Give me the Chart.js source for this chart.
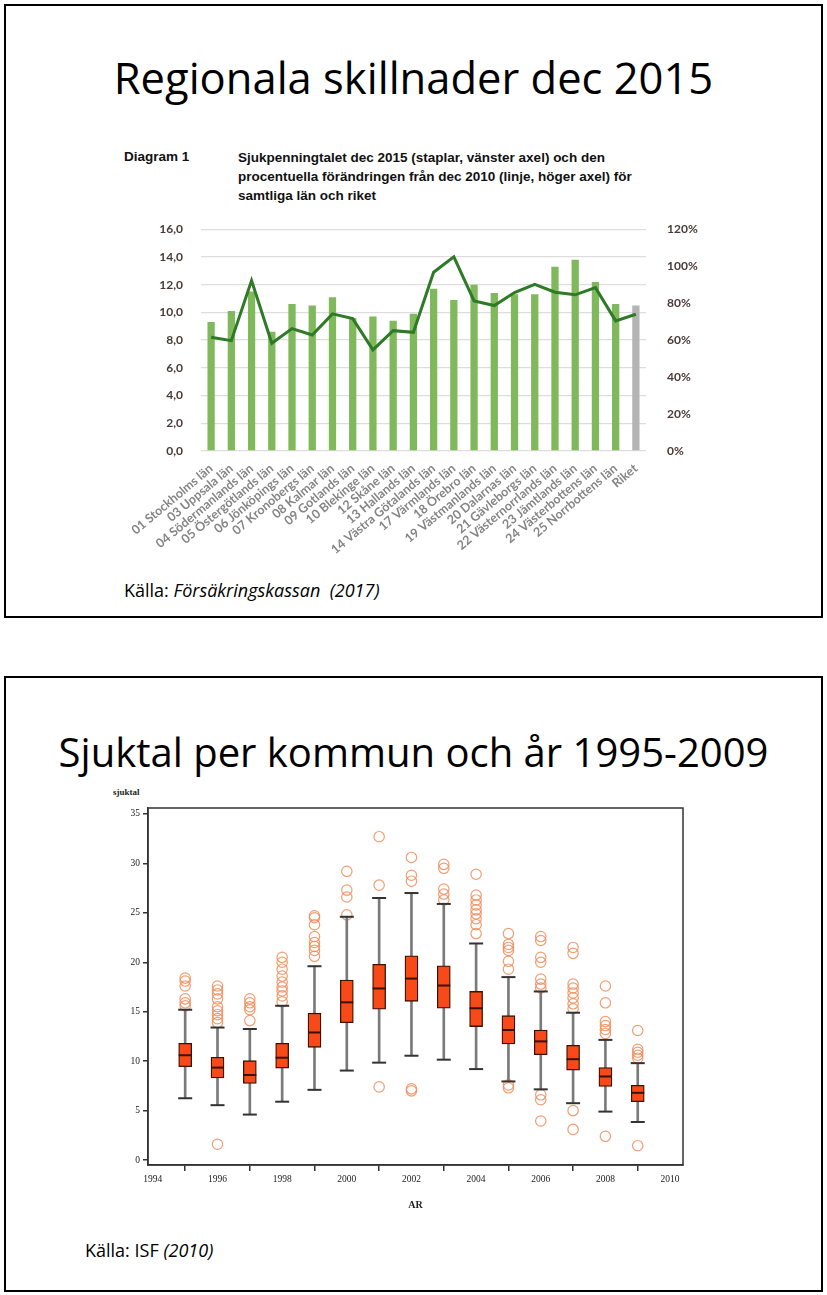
<!DOCTYPE html>
<html>
<head>
<meta charset="utf-8">
<script src="https://cdn.jsdelivr.net/npm/chart.js@4/dist/chart.umd.min.js"></script>
<style>
  body { margin: 0; width: 827px; height: 1295px; background: #fff; position: relative; overflow: hidden; }
  .slide { position: absolute; left: 4px; width: 815px; border: 2px solid #000; }
  .txt { position: absolute; white-space: nowrap; color: #000; }
  .title { font-family: 'Open Sans', sans-serif; left: 0; width: 827px; text-align: center; }
  .arial { font-family: 'Liberation Sans', Arial, sans-serif; font-weight: bold; font-size: 13.5px; color: #111; }
  .kalla { font-family: 'Open Sans', sans-serif; font-size: 18px; }
  canvas { position: absolute; }
</style>
</head>
<body>
<div class="slide" style="top:4px;height:610px"></div>
<div class="slide" style="top:676px;height:612px"></div>

<div class="txt title" style="top:48px;font-size:43.5px">Regionala skillnader dec 2015</div>
<div class="txt arial" style="left:124px;top:149px">Diagram 1</div>
<div class="txt arial" style="left:238px;top:148px;line-height:19px">Sjukpenningtalet dec 2015 (staplar, vänster axel) och den<br>procentuella förändringen från dec 2010 (linje, höger axel) för<br>samtliga län och riket</div>
<div class="txt kalla" style="left:124px;top:578px">Källa: <i>Försäkringskassan&nbsp; (2017)</i></div>

<div class="txt title" style="top:724px;font-size:40px">Sjuktal per kommun och år 1995-2009</div>
<div class="txt" style="left:113px;top:787px;font-family:'Liberation Serif',serif;font-weight:bold;font-size:9px;color:#222">sjuktal</div>
<div class="txt kalla" style="left:85px;top:1238px">Källa: ISF <i>(2010)</i></div>

<canvas id="lan" style="left:110px;top:204px;width:610px;height:371px" width="610" height="371"></canvas>
<canvas id="box" style="left:100px;top:785px;width:600px;height:430px" width="600" height="430"></canvas>

<script>
// Diagram 1: sjukpenningtalet per län (staplar) och förändring sedan dec 2010 (linje)
const lanNamn = ['01 Stockholms län', '03 Uppsala län', '04 Södermanlands län', '05 Östergötlands län',
  '06 Jönköpings län', '07 Kronobergs län', '08 Kalmar län', '09 Gotlands län', '10 Blekinge län',
  '12 Skåne län', '13 Hallands län', '14 Västra Götalands län', '17 Värmlands län', '18 Örebro län',
  '19 Västmanlands län', '20 Dalarnas län', '21 Gävleborgs län', '22 Västernorrlands län',
  '23 Jämtlands län', '24 Västerbottens län', '25 Norrbottens län', 'Riket'];
const sjukpenningtal = [9.3, 10.1, 11.5, 8.6, 10.6, 10.5, 11.1, 9.6, 9.7, 9.4, 9.9, 11.7, 10.9, 12.0,
  11.4, 11.3, 11.3, 13.3, 13.8, 12.2, 10.6, 10.5];
const forandring = [61.5, 59.7, 92.2, 58.3, 66.2, 62.8, 74.2, 71.6, 54.7, 65.1, 64.2, 96.7, 105, 81.2,
  78.7, 85.7, 90.2, 85.9, 84.5, 88.4, 70.4, 74.0];

// Boxplot: sjuktal per kommun och år
const ar = [1995, 1996, 1997, 1998, 1999, 2000, 2001, 2002, 2003, 2004, 2005, 2006, 2007, 2008, 2009];
const whiskerLag = [6.25, 5.55, 4.6, 5.9, 7.1, 9.05, 9.85, 10.55, 10.15, 9.2, 7.95, 7.15, 5.75, 4.9, 3.85];
const kvartil1 = [9.45, 8.3, 7.75, 9.3, 11.4, 13.9, 15.25, 16.05, 15.35, 13.5, 11.75, 10.65, 9.1, 7.45, 5.9];
const median = [10.6, 9.35, 8.6, 10.35, 12.9, 15.95, 17.35, 18.35, 17.65, 15.35, 13.15, 12.0, 10.2, 8.45, 6.8];
const kvartil3 = [11.8, 10.4, 10.05, 11.8, 14.85, 18.2, 19.8, 20.65, 19.65, 17.05, 14.6, 13.15, 11.6, 9.35, 7.55];
const whiskerHog = [15.2, 13.4, 13.25, 15.6, 19.6, 24.6, 26.5, 27.0, 25.9, 21.9, 18.5, 17.05, 14.9, 12.15, 9.8];
const extremvarden = [
  [18.4, 18.1, 17.6, 16.3, 15.9, 15.6],
  [17.6, 17.2, 16.8, 16.3, 15.5, 15.1, 14.7, 14.3, 13.9, 1.6],
  [16.3, 15.9, 15.5, 15.2, 14.1],
  [20.5, 20.0, 19.3, 18.6, 18.0, 17.5, 17.1, 16.6, 16.0],
  [24.7, 24.5, 23.8, 22.6, 22.0, 21.6, 21.2, 20.6],
  [29.2, 27.3, 26.6, 24.8],
  [32.7, 27.8, 7.4],
  [30.6, 28.8, 28.2, 7.2, 7.0],
  [29.9, 29.5, 27.4, 26.9, 26.3],
  [28.9, 26.8, 26.3, 25.8, 25.3, 24.9, 24.4, 23.8, 22.9],
  [22.9, 21.8, 21.5, 21.2, 20.1, 19.3, 7.6, 7.3],
  [22.6, 22.2, 20.5, 20.0, 18.3, 17.8, 17.4, 6.6, 6.1, 3.95],
  [21.5, 20.9, 17.8, 17.4, 16.9, 16.4, 15.8, 15.3, 5.0, 3.1],
  [17.6, 15.9, 14.0, 13.6, 13.2, 12.8, 2.4],
  [13.1, 11.2, 10.9, 10.6, 10.3, 1.45]
];

const tickFont = { family: 'Lato', weight: 'bold', size: 12 };
const kommaFormat = v => v.toFixed(1).replace('.', ',');

new Chart(document.getElementById('lan'), {
  type: 'bar',
  data: {
    labels: lanNamn,
    datasets: [{
      type: 'line',
      data: forandring,
      yAxisID: 'y1',
      borderColor: '#2f7a26',
      borderWidth: 3,
      pointRadius: 0,
      tension: 0
    }, {
      data: sjukpenningtal,
      yAxisID: 'y',
      backgroundColor: lanNamn.map(n => n === 'Riket' ? '#b4b4b4' : '#80b85c'),
      barPercentage: 0.36,
      categoryPercentage: 1
    }]
  },
  options: {
    responsive: false,
    animation: false,
    layout: { padding: { top: 8 } },
    plugins: { legend: { display: false }, tooltip: { enabled: false } },
    scales: {
      x: {
        grid: { display: false },
        border: { display: false },
        ticks: { autoSkip: false, minRotation: 40, maxRotation: 40, font: { family: 'Lato', weight: 'bold', size: 12.5 }, color: '#858585', padding: 2 },
        afterFit: s => { s.height = 124; }
      },
      y: {
        position: 'left', min: 0, max: 16,
        ticks: { stepSize: 2, callback: kommaFormat, font: tickFont, color: '#4a3a3a', padding: 18 },
        grid: { color: '#dddddd', lineWidth: 1.3, drawTicks: false },
        border: { display: false },
        afterFit: s => { s.width = 91; }
      },
      y1: {
        position: 'right', min: 0, max: 120,
        ticks: { stepSize: 20, callback: v => v + '%', font: tickFont, color: '#4a3a3a', padding: 13 },
        grid: { display: false },
        border: { display: false },
        afterFit: s => { s.width = 74; }
      }
    }
  }
});

// boxplot byggs av flytande staplar + punkter
const ram = {
  id: 'ram',
  afterDraw(chart) {
    const { ctx, chartArea: a } = chart;
    ctx.save();
    ctx.strokeStyle = '#333';
    ctx.lineWidth = 1.5;
    ctx.strokeRect(a.left, a.top, a.right - a.left, a.bottom - a.top);
    ctx.restore();
  }
};

const outlierPunkter = [];
extremvarden.forEach((lista, i) => lista.forEach(v => outlierPunkter.push({ x: ar[i], y: v })));
const serifFont = { family: 'Liberation Serif', size: 9.5 };

new Chart(document.getElementById('box'), {
  type: 'bar',
  data: {
    datasets: [{
      type: 'scatter',
      data: ar.map((x, i) => ({ x, y: median[i] })),
      pointStyle: 'line', pointRadius: 6.5, borderColor: '#3a1204', borderWidth: 2,
      order: 1
    }, {
      data: ar.map((x, i) => ({ x, y: [kvartil1[i], kvartil3[i]] })),
      backgroundColor: '#f84a18', borderColor: '#3a1204', borderWidth: 1.3, borderSkipped: false,
      barThickness: 13, grouped: false,
      order: 2
    }, {
      type: 'scatter',
      data: ar.flatMap((x, i) => [{ x, y: whiskerLag[i] }, { x, y: whiskerHog[i] }]),
      pointStyle: 'line', pointRadius: 7, borderColor: '#333', borderWidth: 2,
      order: 3
    }, {
      data: ar.map((x, i) => ({ x, y: [whiskerLag[i], whiskerHog[i]] })),
      backgroundColor: '#7a7a7a', barThickness: 2, grouped: false,
      order: 4
    }, {
      type: 'scatter',
      data: outlierPunkter,
      pointStyle: 'circle', pointRadius: 5.2, backgroundColor: 'rgba(0,0,0,0)',
      borderColor: 'rgba(240,140,90,0.85)', borderWidth: 1.2,
      order: 5
    }]
  },
  options: {
    responsive: false,
    animation: false,
    layout: { padding: { top: 23, right: 17 } },
    plugins: { legend: { display: false }, tooltip: { enabled: false } },
    scales: {
      x: {
        type: 'linear', min: 1993.85, max: 2010.4, offset: false,
        ticks: { stepSize: 2, includeBounds: false, callback: v => String(v), font: serifFont, color: '#222', padding: 3 },
        grid: { drawOnChartArea: false, tickLength: 6, color: '#333', lineWidth: 1.5 },
        border: { display: true, color: '#333', width: 1.5 },
        title: { display: true, text: 'AR', font: { family: 'Liberation Serif', weight: 'bold', size: 10 }, color: '#222', padding: { top: 2 } },
        afterFit: s => { s.height = 50; }
      },
      y: {
        min: -0.5, max: 35.6,
        ticks: { stepSize: 5, includeBounds: false, font: serifFont, color: '#222', padding: 3 },
        grid: { drawOnChartArea: false, tickLength: 5, color: '#333', lineWidth: 1.5 },
        border: { display: true, color: '#333', width: 1.5 },
        afterFit: s => { s.width = 48; }
      }
    }
  },
  plugins: [ram]
});
</script>
</body>
</html>
